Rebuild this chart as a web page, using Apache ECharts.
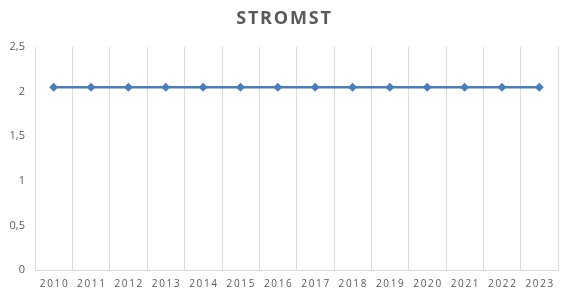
<!DOCTYPE html>
<html lang="de">
<head>
    <meta charset="UTF-8">
    <title>STROMST</title>
    <script src="https://cdn.jsdelivr.net/npm/echarts@6/dist/echarts.min.js"></script>
</head>
<body style="margin: 0; background: #fff;">
    <div id="chart" style="width: 567px; height: 296px;"></div>
    <script>
        var years = ['2010', '2011', '2012', '2013', '2014', '2015', '2016',
                     '2017', '2018', '2019', '2020', '2021', '2022', '2023'];
        var stromst = [2.05, 2.05, 2.05, 2.05, 2.05, 2.05, 2.05,
                       2.05, 2.05, 2.05, 2.05, 2.05, 2.05, 2.05];

        var chart = echarts.init(document.getElementById('chart'));

        chart.setOption({
            animation: false,
            title: {
                // hair spaces to imitate the letter spacing of the original
                text: 'STROMST'.split('').join('\u200A'),
                left: 'center',
                top: 5,
                textStyle: {
                    color: '#595959',
                    fontFamily: 'Open Sans',
                    fontWeight: 'bold',
                    fontSize: 18
                }
            },
            grid: {
                left: 35,
                right: 9,
                top: 47,
                bottom: 26
            },
            xAxis: {
                type: 'category',
                data: years,
                boundaryGap: true,
                axisLine: { lineStyle: { color: '#d9d9d9', width: 1 } },
                axisTick: { show: false },
                splitLine: { show: true, lineStyle: { color: '#d9d9d9', width: 1 } },
                axisLabel: {
                    color: '#595959',
                    fontFamily: 'Open Sans',
                    fontSize: 10,
                    margin: 9,
                    interval: 0,
                    formatter: function (v) {
                        return v.split('').join('\u2009');
                    }
                }
            },
            yAxis: {
                type: 'value',
                min: 0,
                max: 2.5,
                interval: 0.5,
                axisLine: { show: false },
                axisTick: { show: false },
                splitLine: { show: false },
                axisLabel: {
                    color: '#595959',
                    fontFamily: 'Open Sans',
                    fontSize: 11,
                    margin: 10,
                    formatter: function (v) {
                        return String(v).replace('.', ',');
                    }
                }
            },
            series: [{
                type: 'line',
                data: stromst,
                symbol: 'diamond',
                symbolSize: 9,
                lineStyle: { color: '#4a7ebb', width: 2.5 },
                itemStyle: { color: '#4a7ebb' }
            }]
        });
    </script>
</body>
</html>
